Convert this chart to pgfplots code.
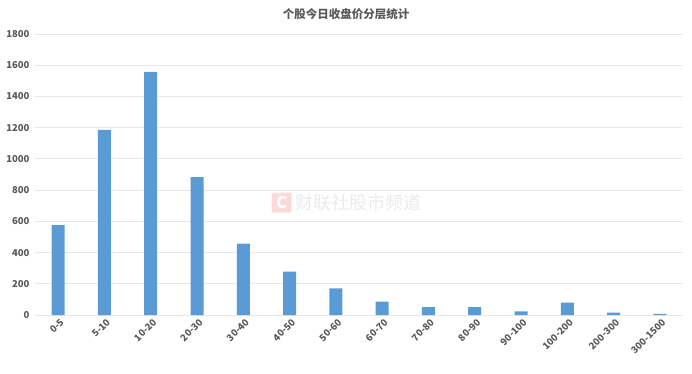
\documentclass[border=0pt]{standalone}
\usepackage{pgfplots}
\pgfplotsset{compat=1.18}
\usepackage{fontspec}
\setmainfont{Noto Sans CJK SC}
\definecolor{barblue}{HTML}{5B9BD5}
\definecolor{gridgray}{HTML}{E8E8E8}
\definecolor{txtgray}{HTML}{595959}
\definecolor{wmred}{HTML}{FBDADA}
\definecolor{wmgray}{HTML}{EBEBEB}
\begin{document}
\begin{tikzpicture}[x=1pt,y=1pt]
\useasboundingbox (0,0) rectangle (692,373);
\node[font=\fontsize{11.5}{13}\selectfont\bfseries, text=txtgray] at (346,359) {个股今日收盘价分层统计};
\begin{axis}[
  at={(35pt,58pt)}, anchor=south west,
  scale only axis, width=648pt, height=281pt,
  xmin=-0.5, xmax=13.5, ymin=0, ymax=1800,
  ytick={0,200,...,1800},
  xtick=data,
  xticklabels={0-5,5-10,10-20,20-30,30-40,40-50,50-60,60-70,70-80,80-90,90-100,100-200,200-300,300-1500},
  axis line style={draw=none},
  major tick length=0pt,
  ymajorgrids, grid style={gridgray, line width=0.8pt},
  tick label style={text=txtgray, font=\fontsize{9.5}{10}\selectfont\bfseries},
  /pgf/number format/assume math mode=true,
  /pgf/number format/1000 sep={},
  xticklabel style={rotate=45, anchor=north east, yshift=-2pt, inner sep=1pt},
  yticklabel style={xshift=-2pt},
  clip=false,
]
\node[fill=wmred, rounded corners=2pt, minimum size=20pt, inner sep=0pt, text=white, font=\fontsize{16}{16}\selectfont\bfseries] at (axis cs:4.83,720) {C};
\node[anchor=west, text=wmgray, font=\fontsize{18}{18}\selectfont] at (axis cs:5.05,720) {财联社股市频道};
\addplot[ybar, bar width=13pt, fill=barblue, draw=none] coordinates {
(0,575) (1,1186) (2,1558) (3,884) (4,457) (5,278) (6,170) (7,85) (8,51) (9,51) (10,24) (11,79) (12,15) (13,8)};
\end{axis}
\end{tikzpicture}
\end{document}
